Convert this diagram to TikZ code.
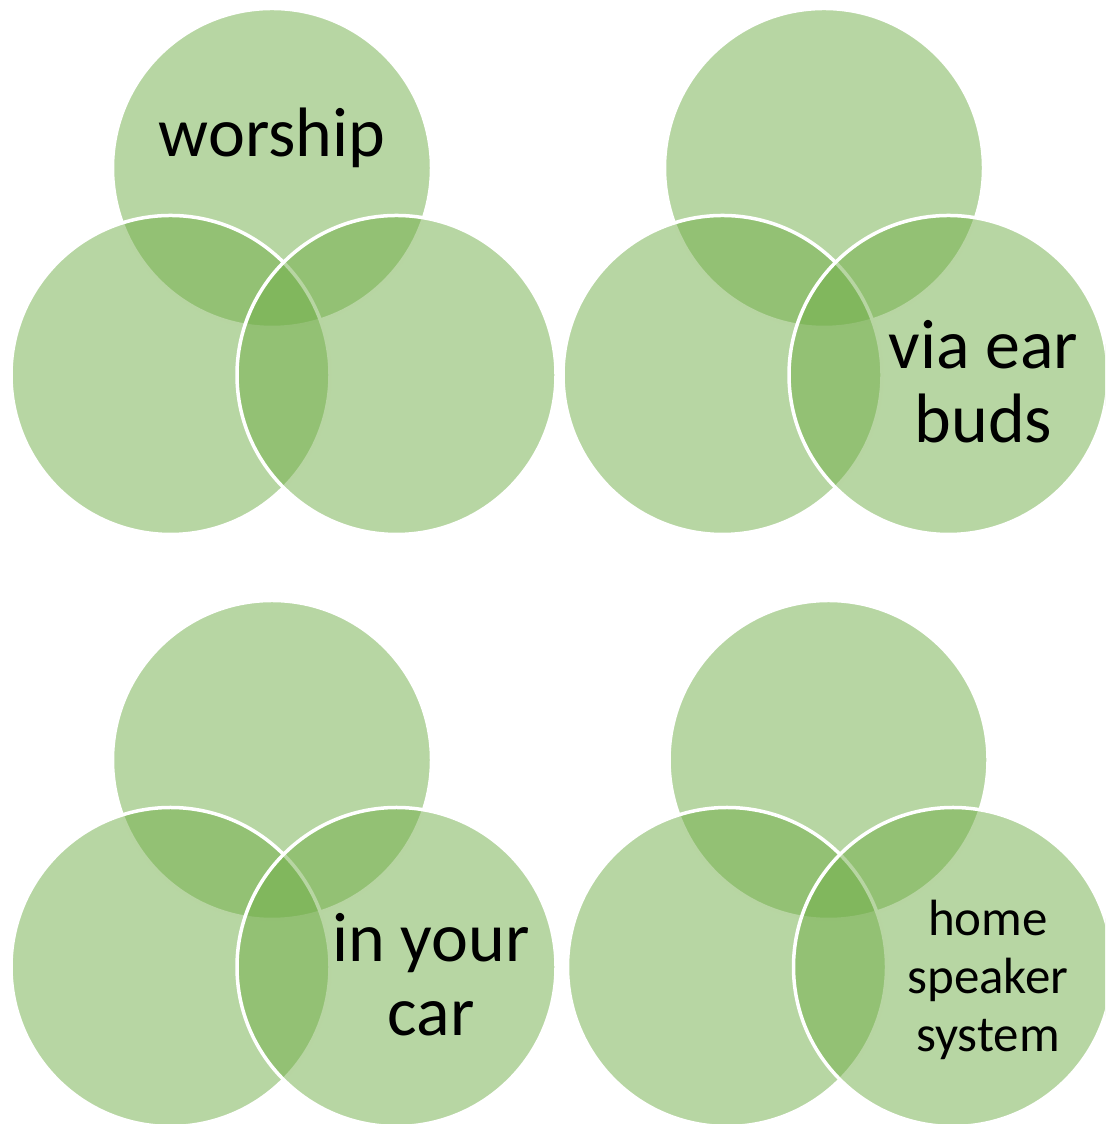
\documentclass[tikz,border=0pt]{standalone}
\usepackage{fontspec}
\setmainfont{Carlito}
\definecolor{venngreen}{HTML}{70AD47}

\begin{document}
\begin{tikzpicture}[line cap=round,line join=round,
  venn/.style={fill=venngreen,fill opacity=0.5,draw=white,line width=0.035cm},
  bigtext/.style={font=\fontsize{19.9}{21}\selectfont,align=center,inner sep=0pt},
  smalltext/.style={font=\fontsize{14.5}{16.5}\selectfont,align=center,inner sep=0pt}]

\useasboundingbox (0,0) rectangle (11.05,11.24);
\clip (0,0) rectangle (11.05,11.24);

% four venn groups: top, lower left, lower right circle
\foreach \dx/\dy in {0/0, 5.52/0, 0/-5.92, 5.565/-5.92}{
  \begin{scope}[shift={(\dx,\dy)}]
    \draw[venn] (2.72,9.56) circle (1.595);
    \draw[venn] (1.705,7.49) circle (1.595);
    \draw[venn] (3.965,7.49) circle (1.595);
  \end{scope}
}

% labels
\node[bigtext,anchor=base] (worship) at (2.72,9.67) {worship};
\node[bigtext] (earbuds) at (9.835,7.42) {via ear\\buds};
\node[bigtext] (car) at (4.31,1.49) {in your\\car};
\node[smalltext] (speaker) at (9.88,1.445) {home\\speaker\\system};

\end{tikzpicture}
\end{document}
